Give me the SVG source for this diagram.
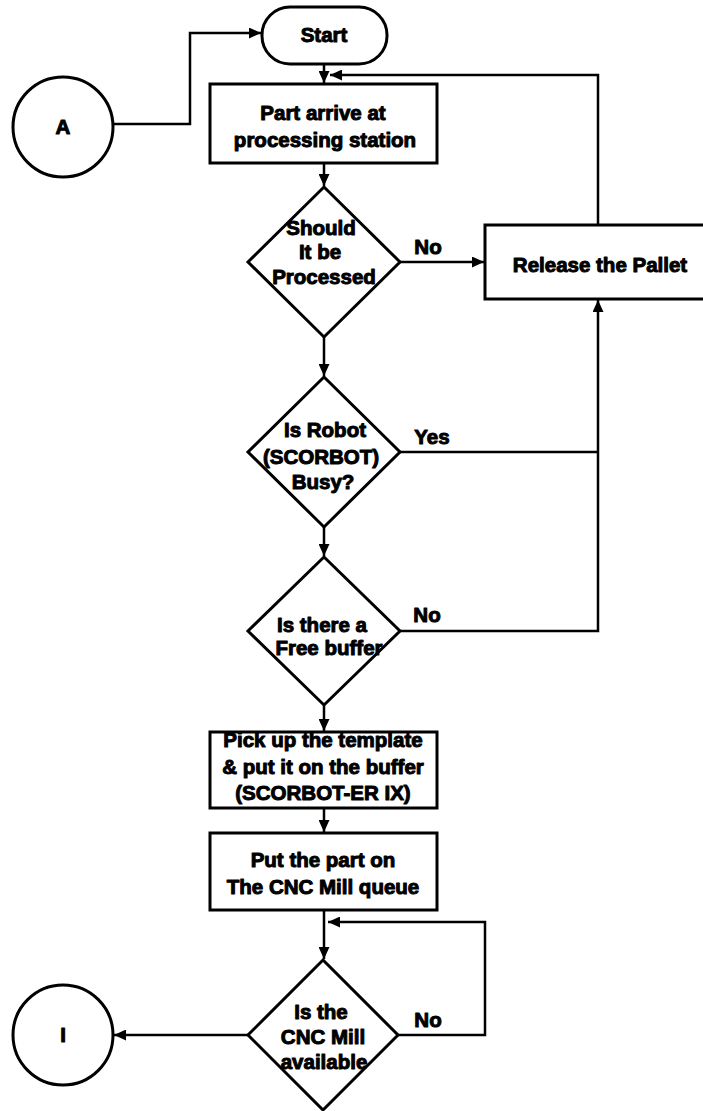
<svg xmlns="http://www.w3.org/2000/svg" width="703" height="1111" viewBox="0 0 703 1111">
  <defs>
    <marker id="arrow" markerUnits="userSpaceOnUse" markerWidth="12" markerHeight="11" refX="12" refY="5.5" orient="auto">
      <path d="M0,0 L12,5.5 L0,11 z" fill="#000"/>
    </marker>
    <style>
      .shape { fill: #fff; stroke: #000; stroke-width: 3; }
      .link { fill: none; stroke: #000; stroke-width: 2.5; }
      .lbl { font-family: "Liberation Sans", Arial, sans-serif; font-weight: bold; font-size: 20.5px; fill: #000; stroke: #000; stroke-width: 1; stroke-linejoin: round; text-anchor: middle; }
    </style>
  </defs>
  <rect width="703" height="1111" fill="#fff"/>

  <!-- connectors -->
  <g id="connectors">
    <polyline class="link" points="113,124 190,124 190,33 261,33" marker-end="url(#arrow)"/>
    <line class="link" x1="324" y1="64" x2="324" y2="83" marker-end="url(#arrow)"/>
    <polyline class="link" points="598,225 598,75 330,75" marker-end="url(#arrow)"/>
    <line class="link" x1="324" y1="163" x2="324" y2="186" marker-end="url(#arrow)"/>
    <line class="link" x1="400" y1="262" x2="484" y2="262" marker-end="url(#arrow)"/>
    <line class="link" x1="324" y1="337" x2="324" y2="376" marker-end="url(#arrow)"/>
    <line class="link" x1="400" y1="452" x2="598" y2="452"/>
    <polyline class="link" points="400,631 598,631 598,300" marker-end="url(#arrow)"/>
    <line class="link" x1="324" y1="527" x2="324" y2="556" marker-end="url(#arrow)"/>
    <line class="link" x1="324" y1="705" x2="324" y2="731" marker-end="url(#arrow)"/>
    <line class="link" x1="324" y1="808" x2="324" y2="832" marker-end="url(#arrow)"/>
    <line class="link" x1="324" y1="910" x2="324" y2="959" marker-end="url(#arrow)"/>
    <polyline class="link" points="398,1035 485,1035 485,922 328,922" marker-end="url(#arrow)"/>
    <line class="link" x1="248" y1="1035" x2="114" y2="1035" marker-end="url(#arrow)"/>
  </g>

  <!-- branch labels -->
  <g id="branch-labels">
    <text class="lbl" x="428" y="254">No</text>
    <text class="lbl" x="432" y="444">Yes</text>
    <text class="lbl" x="427" y="622">No</text>
    <text class="lbl" x="428" y="1027">No</text>
  </g>

  <g id="connector-a">
    <circle class="shape" cx="63" cy="127" r="50"/>
    <text class="lbl" x="63" y="134">A</text>
  </g>

  <g id="start">
    <rect class="shape" x="262" y="7" width="125" height="57" rx="28" ry="28"/>
    <text class="lbl" x="324" y="42">Start</text>
  </g>

  <g id="part-arrive">
    <rect class="shape" x="210" y="84" width="227" height="79"/>
    <text class="lbl" x="323" y="120">Part arrive at</text>
    <text class="lbl" x="325" y="147">processing station</text>
  </g>

  <g id="should-process">
    <polygon class="shape" points="324,187 400,262 324,337 248,262"/>
    <text class="lbl" x="321" y="235">Should</text>
    <text class="lbl" x="320" y="259">It be</text>
    <text class="lbl" x="324" y="284">Processed</text>
  </g>

  <g id="release-pallet">
    <rect class="shape" x="485" y="225" width="230" height="74"/>
    <text class="lbl" x="600" y="272">Release the Pallet</text>
  </g>

  <g id="robot-busy">
    <polygon class="shape" points="324,377 400,452 324,527 248,452"/>
    <text class="lbl" x="325" y="437">Is Robot</text>
    <text class="lbl" x="321" y="464">(SCORBOT)</text>
    <text class="lbl" x="323" y="489">Busy?</text>
  </g>

  <g id="free-buffer">
    <polygon class="shape" points="324,557 400,631 324,705 248,631"/>
    <text class="lbl" x="322" y="632">Is there a</text>
    <text class="lbl" x="329" y="655">Free buffer</text>
  </g>

  <g id="pick-template">
    <rect class="shape" x="210" y="732" width="227" height="76"/>
    <text class="lbl" x="323" y="747">Pick up the template</text>
    <text class="lbl" x="323" y="774">&amp; put it on the buffer</text>
    <text class="lbl" x="323" y="800">(SCORBOT-ER IX)</text>
  </g>

  <g id="cnc-queue">
    <rect class="shape" x="210" y="833" width="227" height="77"/>
    <text class="lbl" x="323" y="867">Put the part on</text>
    <text class="lbl" x="323" y="894">The CNC Mill queue</text>
  </g>

  <g id="cnc-available">
    <polygon class="shape" points="323,960 398,1035 323,1110 248,1035"/>
    <text class="lbl" x="321" y="1019">Is the</text>
    <text class="lbl" x="323" y="1044">CNC Mill</text>
    <text class="lbl" x="324" y="1069">available</text>
  </g>

  <g id="connector-i">
    <circle class="shape" cx="63" cy="1035" r="50"/>
    <text class="lbl" x="63" y="1042">I</text>
  </g>
</svg>
